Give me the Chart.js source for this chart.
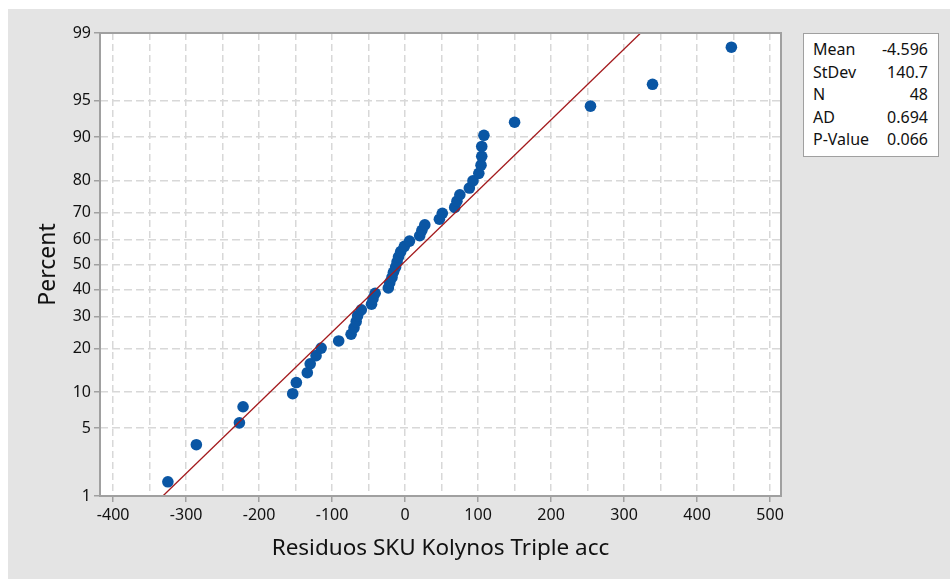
<!DOCTYPE html>
<html>
<head>
<meta charset="utf-8">
<script src="https://cdn.jsdelivr.net/npm/chart.js@4.4.1/dist/chart.umd.min.js"></script>
<style>
  html, body { margin: 0; padding: 0; background: #fff; }
  #wrap { position: relative; width: 950px; height: 579px; }
  #stats {
    position: absolute; left: 803px; top: 33px; width: 134px;
    background: #fff; border: 1.5px solid #a0a0a0;
    font-family: "Noto Sans", sans-serif; font-size: 16px; color: #111;
    padding: 4px 0 5px 0; box-sizing: content-box;
  }
  #stats table { border-collapse: collapse; width: 100%; }
  #stats td { padding: 0; line-height: 22.5px; }
  #stats td.k { padding-left: 9px; }
  #stats td.v { text-align: right; padding-right: 10px; }
</style>
</head>
<body>
<div id="wrap">
  <canvas id="chart" width="950" height="579"></canvas>
  <div id="stats">
    <table>
      <tr><td class="k">Mean</td><td class="v">-4.596</td></tr>
      <tr><td class="k">StDev</td><td class="v">140.7</td></tr>
      <tr><td class="k">N</td><td class="v">48</td></tr>
      <tr><td class="k">AD</td><td class="v">0.694</td></tr>
      <tr><td class="k">P-Value</td><td class="v">0.066</td></tr>
    </table>
  </div>
</div>
<script>
// residuals (x) and plotted percent (y)
const residuals = [-325, -286, -227, -222, -154, -149, -134, -130, -122, -115,
  -91, -74, -70, -67, -65, -60, -46, -44, -41, -23,
  -21, -18, -16, -13, -11, -9, -6, -1, 6, 20,
  23, 27, 47, 51, 68, 71, 75, 88, 93, 101,
  104, 105, 105, 108, 150, 254, 339, 447];
const percents = [1.45, 3.51, 5.58, 7.64, 9.71, 11.78, 13.84, 15.91, 17.98, 20.04,
  22.11, 24.17, 26.24, 28.31, 30.37, 32.44, 34.50, 36.57, 38.64, 40.70,
  42.77, 44.83, 46.90, 48.97, 51.03, 53.10, 55.17, 57.23, 59.30, 61.36,
  63.43, 65.50, 67.56, 69.63, 71.69, 73.76, 75.83, 77.89, 79.96, 82.02,
  84.09, 86.16, 88.22, 90.29, 92.36, 94.42, 96.49, 98.55];

// fitted normal line end points
const fitX = [-331.9, 322.7];
const fitPercent = [1, 99];

const yTickLabels = [1, 5, 10, 20, 30, 40, 50, 60, 70, 80, 90, 95, 99];
const xGridValues = [-400, -350, -300, -250, -200, -150, -100, -50, 0, 50, 100, 150, 200, 250, 300, 350, 400, 450, 500];

// inverse normal cdf (Acklam), used for the probability scale
function probit(p) {
  const a = [-39.69683028665376, 220.9460984245205, -275.9285104469687, 138.3577518672690, -30.66479806614716, 2.506628277459239];
  const b = [-54.47609879822406, 161.5858368580409, -155.6989798598866, 66.80131188771720, -13.28068155288572];
  const c = [-0.007784894002430293, -0.3223964580411365, -2.400758277161838, -2.549732539343734, 4.374664141464968, 2.938163982698783];
  const d = [0.007784695709041462, 0.3224671290700398, 2.445134137142996, 3.754408661907416];
  const pl = 0.02425;
  if (p < pl) {
    const q = Math.sqrt(-2 * Math.log(p));
    return (((((c[0]*q+c[1])*q+c[2])*q+c[3])*q+c[4])*q+c[5]) / ((((d[0]*q+d[1])*q+d[2])*q+d[3])*q+1);
  }
  if (p > 1 - pl) {
    const q = Math.sqrt(-2 * Math.log(1 - p));
    return -(((((c[0]*q+c[1])*q+c[2])*q+c[3])*q+c[4])*q+c[5]) / ((((d[0]*q+d[1])*q+d[2])*q+d[3])*q+1);
  }
  const q = p - 0.5, r = q * q;
  return (((((a[0]*r+a[1])*r+a[2])*r+a[3])*r+a[4])*r+a[5])*q / (((((b[0]*r+b[1])*r+b[2])*r+b[3])*r+b[4])*r+1);
}

const pts = residuals.map((x, i) => ({ x: x, y: probit(percents[i] / 100) }));
const fitPts = fitX.map((x, i) => ({ x: x, y: probit(fitPercent[i] / 100) }));

const frame = {
  id: 'frame',
  beforeDraw(chart) {
    const { ctx, chartArea: a } = chart;
    ctx.save();
    ctx.fillStyle = '#fff';
    ctx.fillRect(0, 0, chart.width, chart.height);
    ctx.fillStyle = '#e4e4e4';
    ctx.fillRect(8, 9, chart.width - 8, chart.height - 9);
    ctx.fillStyle = '#fff';
    ctx.fillRect(a.left, a.top, a.right - a.left, a.bottom - a.top);
    ctx.restore();
  },
  afterDraw(chart) {
    const { ctx, chartArea: a } = chart;
    ctx.save();
    ctx.strokeStyle = '#a0a0a0';
    ctx.lineWidth = 2;
    ctx.strokeRect(a.left, a.top, a.right - a.left, a.bottom - a.top);
    ctx.restore();
  }
};

const font = 'Noto Sans';

new Chart(document.getElementById('chart'), {
  data: {
    datasets: [
      {
        type: 'line',
        data: fitPts,
        borderColor: '#a3191c',
        borderWidth: 1.3,
        pointRadius: 0,
        fill: false,
      },
      {
        type: 'scatter',
        data: pts,
        backgroundColor: '#0a56a4',
        borderWidth: 0,
        pointRadius: 5.8,
      }
    ]
  },
  options: {
    responsive: false,
    animation: false,
    layout: { padding: { top: 33, right: 169, left: 0, bottom: 0 } },
    plugins: { legend: { display: false }, tooltip: { enabled: false } },
    scales: {
      x: {
        type: 'linear',
        min: -418,
        max: 515,
        afterBuildTicks: axis => { axis.ticks = xGridValues.map(v => ({ value: v })); },
        afterFit: s => { s.height = 83; },
        ticks: {
          autoSkip: false,
          maxRotation: 0,
          padding: 4,
          color: '#111',
          font: { family: font, size: 16 },
          callback: v => (v % 100 === 0 ? v : ''),
        },
        grid: {
          color: '#d8d8d8',
          lineWidth: 1.5,
          tickLength: 6,
          tickWidth: 1.5,
          tickColor: c => (c.tick && c.tick.value % 100 === 0 ? '#a0a0a0' : 'rgba(0,0,0,0)'),
        },
        border: { display: false, dash: [7, 4] },
        title: {
          display: true,
          text: 'Residuos SKU Kolynos Triple acc',
          color: '#111',
          font: { family: font, size: 22.5 },
          padding: { top: 0, bottom: 17 },
        }
      },
      y: {
        type: 'linear',
        min: probit(0.01),
        max: probit(0.99),
        afterBuildTicks: axis => { axis.ticks = yTickLabels.map(p => ({ value: probit(p / 100) })); },
        afterFit: s => { s.width = 100; },
        ticks: {
          autoSkip: false,
          padding: 3,
          color: '#111',
          font: { family: font, size: 16 },
          callback: (v, i) => yTickLabels[i],
        },
        grid: {
          color: '#d8d8d8',
          lineWidth: 1.5,
          tickLength: 6,
          tickWidth: 1.5,
          tickColor: '#a0a0a0',
        },
        border: { display: false, dash: [8, 4] },
        title: {
          display: true,
          text: 'Percent',
          color: '#111',
          font: { family: font, size: 23 },
          padding: { top: 35, bottom: 0 },
        }
      }
    }
  },
  plugins: [frame]
});
</script>
</body>
</html>
